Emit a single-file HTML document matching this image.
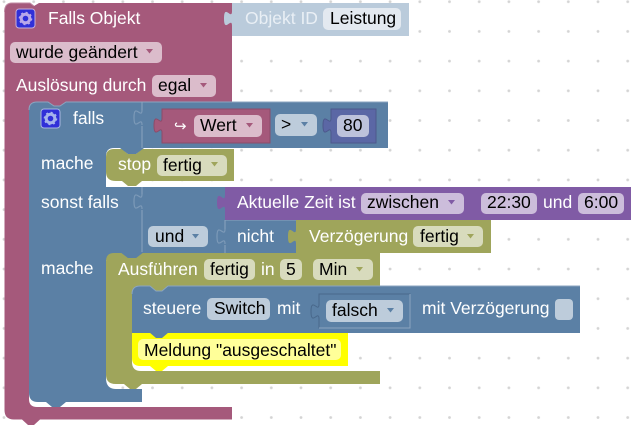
<!DOCTYPE html>
<html><head><meta charset="utf-8"><style>
html,body{margin:0;padding:0;background:#fff;width:636px;height:428px;overflow:hidden}
svg{display:block}
text{font-family:"Liberation Sans",Arial,sans-serif;font-size:17.5px;fill:#fff}
text.k{fill:#000}
</style></head><body>
<svg width="636" height="428" viewBox="0 0 636 428" xmlns="http://www.w3.org/2000/svg">
<defs>
<pattern id="g" x="4" y="1.7" width="29.7" height="29.7" patternUnits="userSpaceOnUse">
<circle cx="0" cy="0" r="1.4" fill="#d4d4d4"/><circle cx="29.7" cy="0" r="1.4" fill="#d4d4d4"/><circle cx="0" cy="29.7" r="1.4" fill="#d4d4d4"/><circle cx="29.7" cy="29.7" r="1.4" fill="#d4d4d4"/>
</pattern>
</defs>
<rect width="636" height="428" fill="#fff"/>
<rect width="636" height="428" fill="url(#g)"/>

<!-- pink hat block -->
<path d="M12 3 H30 L34 6 L39 3 H232 V102 H37 Q29 102 29 110 V399 Q29 407 37 407 H232 V419.5 H40 L34 425 H28 L22 419.5 H14 Q4.5 419.5 4.5 410 V12 Q4.5 3 12 3Z" fill="#a5597b"/>
<path d="M4.5 12 Q4.5 3 12 3 H30 L34 6" fill="none" stroke="#c08aa3" stroke-width="1"/>

<!-- Object ID shadow -->
<path d="M232 3 H409 V36 H232 V26 c0,-10 -8,8 -8,-7.5 s8,2.5 8,-7.5Z" fill="#bacbdb"/>
<rect x="323" y="8" width="78" height="22" rx="5" fill="#e3e9f0"/>
<text x="245" y="24" style="fill:#e9eff5">Objekt ID</text>
<text class="k" x="330" y="24">Leistung</text>

<!-- pink contents -->
<rect x="16" y="9" width="19" height="19" rx="3" fill="#3030d8" stroke="#c8aed8" stroke-width="1"/>
<circle cx="25.5" cy="18.5" r="4.3" fill="none" stroke="#b9a8ea" stroke-width="3"/>
<circle cx="25.5" cy="18.5" r="6" fill="none" stroke="#b9a8ea" stroke-width="1.6" stroke-dasharray="2 2.7"/>
<text x="48" y="24">Falls Objekt</text>
<rect x="10" y="42" width="152" height="21" rx="5" fill="#dbbccb"/>
<text class="k" x="16" y="58">wurde geändert</text>
<path d="M146 49 h7 l-3.5 4.5z" fill="#a5597b"/>
<text x="16" y="91">Auslösung durch</text>
<rect x="152" y="75" width="64" height="22" rx="5" fill="#dbbccb"/>
<text class="k" x="158" y="91">egal</text>
<path d="M200 83 h7 l-3.5 4.5z" fill="#a5597b"/>

<!-- blue if block -->
<path d="M37 102 H48 L54 106 H60 L66 102 H388 V148 H114 Q106 148 106 156 V378 Q106 389 116 389 H142 V402 H66 L60 407 H52 L46 402 H38 Q29 402 29 393 V110 Q29 102 37 102Z" fill="#5b80a5"/>
<path d="M48 102 L54 106 H60 L66 102Z" fill="#a5597b"/>
<path d="M29 187 H225 V253 H29Z" fill="#5b80a5"/>
<path d="M106 253 H142 V260 H106Z" fill="#5b80a5"/>
<rect x="225" y="220" width="71" height="33" fill="#5b80a5"/>
<path d="M142 102 V110 M142 126 V148 M142 187 V194 M142 210 V253 M225 220 V229 M225 245 V253 M225 220 H296" stroke="#8ba5c0" stroke-width="1" fill="none"/>
<path d="M142 110 c0,10 -8,-8 -8,7.5 s8,-2.5 8,7.5" fill="none" stroke="#7d9ab8" stroke-width="1.2"/>
<path d="M142 194 c0,10 -8,-8 -8,7.5 s8,-2.5 8,7.5" fill="none" stroke="#7d9ab8" stroke-width="1.2"/>
<path d="M225 229 c0,10 -8,-8 -8,7.5 s8,-2.5 8,7.5" fill="none" stroke="#7d9ab8" stroke-width="1.2"/>
<path d="M29 110 Q29 102 37 102 H48 L54 106 H60 L66 102 H388" fill="none" stroke="#8ba5c0" stroke-width="1"/>
<rect x="41" y="109" width="19" height="19" rx="3" fill="#3030d8" stroke="#a8b8e0" stroke-width="1"/>
<circle cx="50.5" cy="118.5" r="4.3" fill="none" stroke="#a6b4ec" stroke-width="3"/>
<circle cx="50.5" cy="118.5" r="6" fill="none" stroke="#a6b4ec" stroke-width="1.6" stroke-dasharray="2 2.7"/>
<text x="73" y="124">falls</text>
<text x="41" y="169">mache</text>
<text x="41" y="208">sonst falls</text>
<text x="41" y="274">mache</text>

<!-- Wert -->
<path d="M162 109 H270 V143 H162 V133 c0,-10 -8,8 -8,-7.5 s8,2.5 8,-7.5Z" fill="#a5597b" stroke="#8c4b69" stroke-width="1"/>
<text x="174" y="131" style="font-size:15px">↪</text>
<rect x="194" y="115" width="68" height="22" rx="5" fill="#dbbccb"/>
<text class="k" x="200" y="131">Wert</text>
<path d="M246 123 h7 l-3.5 4.5z" fill="#a5597b"/>
<!-- > -->
<rect x="275" y="114" width="42" height="22" rx="5" fill="#bdccdb"/>
<text class="k" x="281" y="130">&gt;</text>
<path d="M301 122 h7 l-3.5 4.5z" fill="#5b80a5"/>
<!-- 80 -->
<path d="M331 109 H376 V143 H331 V133 c0,-10 -8,8 -8,-7.5 s8,2.5 8,-7.5Z" fill="#5b67a5" stroke="#4d588c" stroke-width="1"/>
<rect x="337" y="115" width="32" height="22" rx="5" fill="#bdc2db"/>
<text class="k" x="343" y="131">80</text>

<!-- stop -->
<path d="M114 149 H122 L128 154 H136 L142 149 H234 V181 H142 L136 186 H128 L122 181 H116 Q106 181 106 172 V157 Q106 149 114 149Z" fill="#9fa55b"/>
<path d="M120 148 H144 L136 154 H128Z" fill="#5b80a5"/>
<text x="118" y="170">stop</text>
<rect x="157" y="155" width="70" height="21" rx="5" fill="#d8dbbd"/>
<text class="k" x="163" y="171">fertig</text>
<path d="M211 162 h7 l-3.5 4.5z" fill="#9fa55b"/>

<!-- purple -->
<path d="M225 187 H631 V220 H225 V210 c0,-10 -8,8 -8,-7.5 s8,2.5 8,-7.5Z" fill="#805ba5"/>
<text x="237" y="208">Aktuelle Zeit ist</text>
<rect x="361" y="193" width="103" height="21" rx="5" fill="#ccbddb"/>
<text class="k" x="367" y="208">zwischen</text>
<path d="M448 200 h7 l-3.5 4.5z" fill="#805ba5"/>
<rect x="481" y="193" width="56" height="21" rx="5" fill="#ccbddb"/>
<text class="k" x="487" y="208">22:30</text>
<text x="543" y="208">und</text>
<rect x="578" y="193" width="46" height="21" rx="5" fill="#ccbddb"/>
<text class="k" x="584" y="208">6:00</text>

<!-- und / nicht -->
<rect x="148" y="226" width="60" height="21" rx="5" fill="#bdccdb"/>
<text class="k" x="155" y="242">und</text>
<path d="M192 234 h7 l-3.5 4.5z" fill="#5b80a5"/>
<text x="237" y="242">nicht</text>
<path d="M296 220 H491 V253 H296 V244 c0,-10 -8,8 -8,-7.5 s8,2.5 8,-7.5Z" fill="#9fa55b"/>
<text x="309" y="242">Verzögerung</text>
<rect x="413" y="226" width="70" height="21" rx="5" fill="#d8dbbd"/>
<text class="k" x="420" y="242">fertig</text>
<path d="M467 234 h7 l-3.5 4.5z" fill="#9fa55b"/>

<!-- Ausführen -->
<path d="M114 253 H122 L128 258 H136 L142 253 H380 V286 H140 Q132 286 132 294 V362 Q132 371 141 371 H380 V384 H142 L136 389 H130 L124 384 H116 Q106 384 106 375 V261 Q106 253 114 253Z" fill="#9fa55b"/>
<path d="M120 252 H144 L136 258 H128Z" fill="#5b80a5"/>
<text x="118" y="275">Ausführen</text>
<rect x="204" y="259" width="51" height="21" rx="5" fill="#d8dbbd"/>
<text class="k" x="210" y="275">fertig</text>
<text x="261" y="275">in</text>
<rect x="280" y="259" width="22" height="21" rx="5" fill="#d8dbbd"/>
<text class="k" x="286" y="275">5</text>
<rect x="313" y="259" width="60" height="21" rx="5" fill="#d8dbbd"/>
<text class="k" x="319" y="275">Min</text>
<path d="M356 267 h7 l-3.5 4.5z" fill="#9fa55b"/>

<!-- steuere -->
<path d="M140 286 H150 L156 291 H162 L168 286 H580 V333 H132 V294 Q132 286 140 286Z" fill="#5b80a5"/>
<path d="M150 286 L156 291 H162 L168 286Z" fill="#9fa55b"/>
<path d="M132 294 Q132 286 140 286 H150 L156 291 H162 L168 286 H580" fill="none" stroke="#8ba5c0" stroke-width="1"/>
<text x="143" y="314">steuere</text>
<rect x="207" y="298" width="63" height="22" rx="5" fill="#bdccdb"/>
<text class="k" x="214" y="314">Switch</text>
<text x="277" y="314">mit</text>
<path d="M319 294 H410 V328 H319 V319 c0,-10 -8,8 -8,-7.5 s8,2.5 8,-7.5Z" fill="#5b80a5" stroke="#48678a" stroke-width="1"/>
<path d="M410 294 V328 H319" fill="none" stroke="#8ba5c0" stroke-width="1"/>
<rect x="326" y="300" width="77" height="22" rx="5" fill="#bdccdb"/>
<text class="k" x="332" y="316">falsch</text>
<path d="M387 308 h7 l-3.5 4.5z" fill="#5b80a5"/>
<text x="422" y="314">mit Verzögerung</text>
<rect x="555" y="299" width="18" height="21" rx="4" fill="#bdccdb"/>

<!-- yellow -->
<path d="M132 333 H348 V366 H168 L162 371 H156 L150 366 H140 Q132 366 132 358Z" fill="#ffff00"/>
<path d="M149 332 H169 L162 338 H156Z" fill="#5b80a5"/>
<rect x="138" y="339" width="203" height="21" rx="5" fill="#ffff99"/>
<text class="k" x="144" y="356">Meldung "ausgeschaltet"</text>
</svg>
</body></html>
